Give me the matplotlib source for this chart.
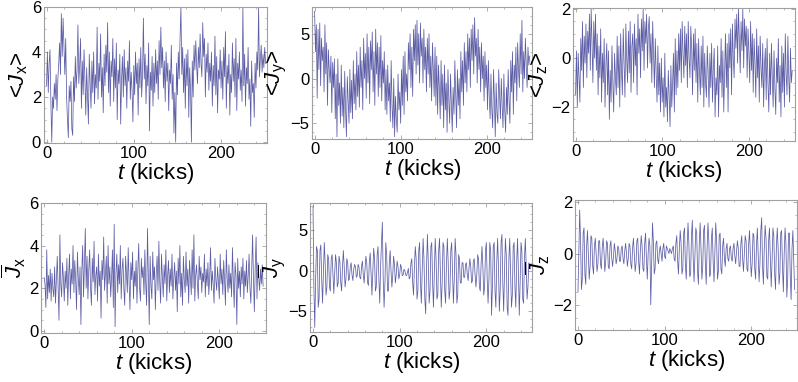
import numpy as np
import matplotlib
matplotlib.use('Agg')
import matplotlib.pyplot as plt
from matplotlib.ticker import MultipleLocator

plt.rcParams['font.family'] = ['Liberation Sans', 'DejaVu Sans']
plt.rcParams['mathtext.fontset'] = 'custom'
plt.rcParams['mathtext.rm'] = 'Liberation Sans'
plt.rcParams['mathtext.it'] = 'Liberation Sans:italic'
plt.rcParams['axes.unicode_minus'] = True

# ── dados (um valor por kick, t = 0..250) ─────────────────────────────────────
jx_mean = [
    2.5, 4.0, 2.2, 3.5, 4.1, 1.8, 0.0, 2.0, 1.5, 2.6, 1.9, 3.0, 1.4, 2.8, 3.5, 4.4, 3.0, 5.7, 3.8, 5.5, 4.2, 3.0, 4.6, 2.0, 1.0,
    0.2, 2.5, 1.8, 2.7, 0.6, 0.3, 2.9, 1.8, 3.8, 2.4, 3.2, 5.2, 2.6, 3.4, 4.6, 1.5, 3.6, 2.1, 4.1, 2.8, 1.2, 3.3, 2.0, 0.8, 3.9,
    2.6, 1.5, 3.6, 2.2, 4.0, 1.7, 3.0, 2.4, 5.1, 1.9, 3.5, 2.7, 4.8, 2.0, 3.3, 1.3, 3.9, 2.5, 4.3, 3.1, 5.3, 2.2, 4.0, 1.6, 3.6,
    2.9, 4.6, 1.8, 3.7, 2.4, 4.4, 1.0, 3.2, 2.6, 3.9, 0.8, 2.8, 3.8, 2.0, 4.1, 2.5, 3.3, 1.5, 3.6, 2.7, 4.5, 1.9, 3.1, 2.3, 0.9,
    3.4, 2.1, 4.0, 2.6, 3.5, 1.2, 3.7, 2.4, 4.2, 2.0, 3.0, 5.5, 2.8, 3.9, 1.7, 3.4, 2.5, 4.4, 0.5, 3.1, 2.3, 3.8, 1.6, 3.5, 2.2,
    4.1, 2.6, 3.6, 1.9, 4.5, 3.0, 5.1, 3.3, 4.2, 2.4, 3.6, 1.8, 4.0, 2.7, 3.5, 1.4, 3.2, 2.6, 4.3, 1.9, 3.0, 0.4, 2.2, 0.0, 3.5,
    2.1, 4.0, 2.8, 4.6, 6.0, 3.0, 4.2, 2.2, 3.7, 1.5, 3.9, 2.5, 4.1, 1.1, 3.3, 2.4, 0.0, 3.6, 2.0, 4.3, 3.2, 4.5, 3.4, 2.6, 4.2,
    3.3, 4.8, 3.5, 2.9, 5.3, 3.8, 4.6, 2.0, 3.9, 3.1, 4.4, 2.3, 3.5, 2.7, 4.0, 1.6, 3.4, 2.5, 4.7, 2.1, 3.8, 1.3, 3.2, 2.8, 4.1,
    2.4, 3.6, 1.9, 4.2, 2.9, 4.9, 1.5, 3.4, 2.6, 3.9, 1.2, 3.0, 2.2, 4.4, 2.7, 3.7, 2.0, 4.6, 1.4, 3.5, 2.8, 4.0, 2.3, 3.2, 1.8,
    6.0, 2.5, 3.9, 1.6, 3.3, 2.6, 4.2, 1.9, 2.8, 0.7, 3.6, 2.2, 2.6, 1.1, 3.5, 2.4, 4.0, 3.2, 6.0, 2.9, 3.7, 4.3, 3.1, 3.9, 3.3, 4.2, 3.5,
]

jy_mean = [
    7.5, 3.0, 6.0, -2.2, 5.5, 1.0, 6.2, -0.8, 4.5, 2.0, 3.5, -1.5, 6.0, 0.5, 4.0, -3.0, 3.2, 1.0, -0.5, 2.5, -3.8, 1.8, -1.0, 2.2, -4.5,
    0.5, -6.5, 2.2, -3.0, -0.5, -5.0, 1.5, -4.2, -1.0, -5.5, 0.8, -3.5, -6.5, 0.2, -2.5, -5.0, 1.0, -3.8, -0.2, -4.5, 2.0, -2.8, 0.5, -3.5, 3.0,
    -2.0, 1.5, -3.2, 3.5, -1.0, 2.0, -3.5, 4.5, 0.0, 2.8, -2.2, 5.0, -0.5, 3.5, -2.8, 4.2, 1.0, 5.2, -1.5, 3.0, -3.0, 5.5, 0.5, 4.0, -2.0,
    3.5, -1.0, 4.8, -2.5, 2.0, -0.5, 3.0, -3.5, 1.0, -4.0, 1.5, -2.5, -0.5, -4.8, 2.0, -3.0, -5.5, 0.0, -6.5, -2.0, -4.5, -6.0, 0.5, -3.5, -1.5,
    -5.0, 1.0, -3.0, 2.5, -4.0, 3.0, -1.5, 0.5, -2.5, 4.0, 1.0, 5.0, -1.0, 3.5, -2.0, 5.5, 2.0, 6.0, 0.5, 6.5, 1.5, 5.0, -0.5, 6.2, 2.5,
    4.5, -0.5, 5.5, 1.0, 3.5, -1.5, 4.5, 0.5, 5.0, -1.0, 2.5, -2.5, 4.0, 1.0, -2.0, 3.5, -3.0, 2.5, -4.0, 1.5, -1.0, -4.5, 2.0, -3.0, 0.5,
    -5.5, 1.5, -3.5, -0.5, -6.0, 1.0, -2.5, -5.0, 0.5, -3.0, -6.0, -1.0, -4.0, 2.0, -2.0, -5.5, 1.0, -3.0, 0.0, -4.5, 3.0, -1.5, 2.0, -3.0, 4.0,
    -0.5, 3.0, -1.5, 5.0, 1.0, 4.5, -1.0, 5.5, 2.0, 6.0, 0.5, 6.8, 2.5, 4.5, -0.5, 5.5, 1.0, 3.5, -1.5, 4.0, 0.0, 2.5, -2.5, 3.0, -1.0,
    1.5, -3.5, 2.0, -2.0, -4.5, 0.5, -3.5, -5.5, 1.0, -2.5, -6.5, -0.5, -4.0, -5.0, 1.0, -2.0, -4.5, 0.0, -3.0, -5.5, 0.5, -3.5, -6.0, -1.0, -4.0,
    1.0, -2.5, -5.0, 2.0, -1.5, 3.0, -4.0, 1.5, -0.5, 3.5, -2.5, 4.0, 1.0, -1.0, 5.0, 0.5, 6.5, -1.5, 3.0, 0.0, 4.5, 1.5, -1.0, 3.5, 1.5, 2.5,
]

jz_mean = [
    -1.5, 0.3, -2.0, 0.2, -0.8, -1.8, 0.8, -0.5, 1.5, -1.2, 0.9, -0.2, 1.4, -0.8, 1.1, 0.2, 1.8, -0.5, 2.0, 0.6, -1.0, 1.5, 0.0, 1.8, -0.5,
    1.0, -1.5, 0.5, -0.8, 1.2, -1.8, 0.2, -1.0, 0.8, -2.0, -0.3, 0.6, -1.5, 0.3, -2.5, -0.5, -1.8, 0.5, -1.0, -2.2, 0.2, -0.8, -1.5, 0.9, -1.2,
    0.5, -2.0, 1.0, -0.5, -1.5, 1.2, -0.2, -1.6, 1.4, 0.0, -1.0, 1.1, -0.6, 1.5, -1.4, 0.5, 1.0, -1.0, 1.4, -0.3, 0.8, -1.5, 1.8, 0.2, 1.2,
    -0.8, 1.6, 0.3, 2.0, -0.5, 1.5, 0.6, 1.8, -0.4, 1.2, 1.7, -0.2, 1.0, -1.0, 1.5, 0.2, -1.2, 0.8, -0.6, -1.8, 0.5, -1.5, -0.2, -2.2, 0.0,
    -1.8, -0.8, -2.4, 0.2, -2.0, -1.2, -2.6, -0.5, -1.5, -2.8, -0.3, -2.0, -1.0, 0.2, -2.2, 0.8, -1.5, 0.3, -1.2, 1.0, -0.5, 1.2, -1.0, 1.5, 0.2,
    -0.8, 1.3, -0.3, 1.0, -1.2, 1.5, 0.0, -0.8, 1.3, 0.4, -1.5, 1.0, -0.5, 1.2, -1.0, 0.6, -1.8, 0.8, -0.6, -1.5, 0.5, -1.2, 0.9, -2.0, 0.2,
    -1.0, -1.6, 0.5, -0.6, -2.0, 0.2, -1.2, 0.6, -1.8, -0.4, 0.4, -2.4, -0.8, -1.5, 0.5, -2.4, -0.3, -1.0, 0.8, -1.6, 0.3, -2.2, -0.5, 1.0, -1.2,
    0.6, -2.2, 1.0, -0.4, 1.2, -1.5, 1.4, 0.0, -0.8, 1.6, 0.4, 1.8, -0.2, 2.0, 0.8, -0.6, 1.5, 0.3, 2.0, -0.4, 1.6, 0.5, 1.3, -0.8, 1.2,
    0.2, -1.0, 1.5, -0.5, 1.0, -1.4, 0.8, -0.2, -1.6, 1.2, -0.8, 0.5, -1.8, 0.9, -0.4, -1.2, 0.6, -2.0, -0.3, 0.4, -1.7, 0.8, -1.0, -2.2, 0.2,
    -1.5, 0.6, -0.8, -2.0, 0.3, -1.2, -2.3, 0.0, -1.0, 0.8, -1.8, -0.3, -2.4, 0.5, -1.4, 0.2, -2.0, 1.0, -0.6, -1.5, 0.9, -0.8, -1.8, 0.4, -1.0, -0.5,
]

jx_bar = [
    2.5, 2.2, 1.1, 3.8, 1.5, 2.6, 1.8, 2.9, 1.4, 2.7, 2.0, 1.6, 3.0, 1.3, 2.4, 3.5, 1.9, 0.5, 4.5, 2.2, 1.6, 3.2, 2.5, 1.4, 2.8,
    2.0, 3.4, 1.2, 2.6, 3.6, 1.5, 2.9, 2.2, 4.0, 1.8, 3.3, 2.4, 1.0, 3.7, 2.5, 1.7, 3.0, 0.3, 2.8, 4.0, 1.6, 3.1, 4.8, 2.0, 3.5,
    1.5, 2.9, 3.8, 2.0, 1.2, 3.4, 2.3, 4.2, 1.7, 2.6, 3.0, 1.4, 3.6, 2.1, 2.8, 0.6, 3.3, 2.4, 4.4, 1.9, 2.7, 3.5, 1.3, 4.0, 2.2,
    3.0, 1.6, 2.5, 3.8, 1.1, 5.0, 0.2, 2.7, 3.6, 1.8, 3.1, 2.2, 4.0, 1.5, 2.9, 3.4, 2.0, 1.2, 3.5, 2.6, 1.8, 3.9, 2.3, 1.0, 3.2,
    2.4, 3.7, 1.5, 2.8, 2.1, 3.3, 1.3, 2.9, 4.1, 2.0, 1.4, 3.4, 2.5, 3.0, 1.7, 3.8, 2.2, 1.2, 4.8, 2.6, 0.3, 3.5, 2.1, 1.5, 3.7,
    2.4, 3.0, 1.0, 2.7, 3.5, 1.9, 4.2, 2.3, 1.3, 3.6, 2.5, 1.6, 3.1, 2.2, 3.8, 1.4, 2.6, 3.3, 1.8, 2.9, 2.1, 3.6, 1.5, 2.5, 3.2,
    1.9, 2.8, 0.9, 3.4, 2.2, 4.0, 1.6, 2.7, 1.2, 3.5, 2.4, 1.8, 3.7, 2.1, 2.9, 1.3, 3.3, 2.5, 1.7, 3.8, 2.0, 4.5, 1.4, 2.6, 3.1,
    2.2, 1.5, 3.5, 2.4, 3.0, 1.8, 2.7, 2.3, 3.6, 1.6, 2.9, 2.1, 3.2, 1.7, 2.5, 3.9, 1.9, 2.8, 2.2, 1.3, 3.4, 2.4, 1.9, 3.0, 2.3,
    1.5, 3.6, 2.2, 2.9, 1.7, 3.3, 2.4, 1.2, 3.8, 2.5, 1.8, 3.1, 2.0, 2.7, 1.6, 3.9, 2.3, 1.1, 3.2, 2.6, 0.3, 3.4, 2.0, 2.8, 1.6,
    3.0, 2.2, 3.4, 1.5, 2.8, 2.1, 3.3, 1.8, 2.6, 3.6, 2.0, 1.3, 2.9, 4.5, 2.4, 0.9, 3.0, 4.4, 1.5, 3.2, 2.5, 1.9, 2.9, 2.2, 3.1, 2.1,
]

jy_bar = [
    8.0, -2.0, -7.0, -1.0, 3.0, 2.5, -4.5, -3.5, 2.5, 3.2, -1.0, -4.0, 0.0, 3.5, 1.0, -3.0, -2.0, 2.0, 1.5, -2.0, -2.5, 1.5, 2.0, -0.5, -2.8,
    -0.5, 2.0, 1.0, -2.0, -1.5, 1.8, 1.2, -1.5, -2.5, 0.5, 2.5, 0.5, -2.0, -1.0, 1.5, 1.0, -1.2, -1.0, 0.5, 1.0, -0.5, -1.2, 0.2, 0.8, 0.5,
    -0.8, -0.6, 0.8, 0.5, -0.8, -1.0, 0.6, 1.2, -0.5, -1.5, 0.2, 1.8, 1.0, -1.5, -1.8, 1.2, 2.2, -0.5, -3.0, 0.0, 2.8, 1.5, -2.5, -2.0, 2.0,
    3.0, -1.0, -4.0, 0.5, 3.5, 6.0, -1.0, -4.5, -1.5, 3.5, 2.0, -2.5, -2.5, 1.0, 2.5, 0.0, -2.0, -0.5, 1.8, 0.8, -1.5, -0.5, 1.2, 0.6, -1.0,
    -0.5, 0.8, 0.4, -0.6, -0.5, 0.2, 0.0, -0.5, -0.6, -0.2, 0.3, -1.0, -0.8, 1.0, 1.5, -1.5, -3.0, 0.5, 3.0, 1.5, -3.5, -2.5, 2.5, 3.5, -1.5,
    -4.0, 0.0, 4.0, 1.5, -3.5, -5.3, 0.5, 4.5, 1.0, -4.0, -2.5, 3.0, 3.5, -1.5, -4.5, 0.0, 4.0, 1.5, -3.5, -3.0, 2.5, 4.0, -0.5, -4.5, -1.5,
    3.5, 3.0, -2.5, -4.0, 1.0, 4.0, 1.0, -3.5, -2.5, 2.5, 3.5, -0.5, -4.0, -1.0, 4.0, 2.0, -4.0, -3.0, 2.0, 1.5, -1.5, -1.5, 1.0, 1.0, -0.8,
    -0.8, 0.8, 1.0, -0.5, -1.2, 0.3, 1.5, 0.5, -1.5, -1.2, 1.2, 1.5, -0.5, -2.0, -0.5, 2.0, 1.5, -2.0, -2.5, 1.0, 3.0, 0.5, -3.0, -2.0, 2.5,
    3.5, -1.0, -4.0, -1.0, 3.5, 2.5, -5.5, -2.0, 3.0, 3.5, -2.5, -4.5, 1.0, 4.0, 0.5, -5.0, -2.5, 3.5, 4.5, -1.5, -5.0, 0.0, 4.0, 2.0, -4.5,
    -5.5, 1.5, 4.0, 0.0, -4.5, -3.0, 3.0, 3.5, -2.0, -4.5, 1.0, 4.0, 0.0, -5.5, -1.5, 3.5, 2.5, -3.5, -4.0, 1.5, 4.0, 0.5, -3.5, -2.0, 1.0, 0.5,
]

jz_bar = [
    -1.5, 0.0, 1.7, 0.5, -1.4, -1.0, 0.8, 1.0, -0.8, -1.2, 0.3, 0.9, 0.0, -1.0, -0.5, 0.7, 0.6, -0.5, -0.8, 0.3, 0.6, 0.0, -0.7, -0.4, 0.5,
    0.5, -0.4, -0.6, 0.2, 0.6, 0.1, -0.7, -0.3, 0.5, 0.4, -0.5, -0.6, 0.3, 0.5, -0.2, -0.5, -0.1, 0.4, 0.1, -0.4, -0.2, 0.3, 0.2, -0.3, -0.3,
    0.2, 0.3, -0.2, -0.4, 0.1, 0.4, 0.0, -0.5, -0.2, 0.4, 0.3, -0.4, -0.6, 0.2, 0.6, 0.0, -0.7, -0.4, 0.5, 0.6, -0.3, -0.8, 0.1, 0.7, 0.3,
    -0.6, -0.7, 0.4, 0.8, -0.2, -1.0, 0.0, 0.6, 0.3, -2.0, -0.5, 1.2, 0.5, -0.8, -0.6, 0.4, 0.5, -0.2, -0.4, 0.1, 0.3, 0.0, -0.3, 0.2, 0.4,
    -0.1, -0.2, 0.3, 0.2, 0.1, 0.0, 0.2, 0.1, 0.0, 0.2, 0.3, -0.2, -0.3, 0.4, 0.7, -0.3, -0.8, 0.2, 0.9, 0.4, -0.8, -0.6, 0.8, 1.0, -0.5,
    -1.0, 0.3, 1.2, 0.4, -0.9, -0.8, 0.7, 1.3, -0.2, -1.1, 0.0, 1.0, 0.8, -0.7, -1.2, 0.4, 1.2, 0.2, -1.0, -0.5, 0.9, 1.1, -0.4, -1.2, 0.2,
    1.2, 0.5, -0.9, -0.8, 0.6, 1.0, -0.3, -1.1, 0.0, 1.2, 0.5, -1.0, -0.7, 0.7, 0.8, -0.6, -0.8, 0.3, 0.6, -0.2, -0.5, 0.2, 0.4, -0.2, -0.3,
    0.2, 0.3, -0.2, -0.3, 0.2, 0.4, -0.1, -0.4, 0.1, 0.5, 0.2, -0.5, -0.5, 0.4, 0.7, -0.2, -0.7, 0.0, 0.7, 0.5, -0.6, -0.7, 0.4, 0.9, -0.1,
    -0.9, -0.4, 0.8, 0.7, -0.6, -1.0, 0.3, 1.0, 0.0, -1.1, -0.4, 0.9, 1.4, -0.5, -1.2, 0.2, 1.1, 0.6, -0.9, -1.0, 0.5, 1.0, -0.2, -1.3, -0.3,
    1.0, 0.7, -0.8, -1.4, 0.3, 1.0, 0.2, -1.2, -0.8, 0.8, 0.9, -0.5, -1.5, 0.0, 1.0, 0.4, -1.7, -1.0, 0.8, 0.8, -0.9, -1.8, 0.2, 0.9, -0.3, -1.4,
]

series = [jx_mean, jy_mean, jz_mean, jx_bar, jy_bar, jz_bar]
ylabels = [r'<$J_\mathrm{x}$>', r'<$J_\mathrm{y}$>', r'<$J_\mathrm{z}$>',
           r'$\overline{J}_\mathrm{x}$', r'$\overline{J}_\mathrm{y}$', r'$\overline{J}_\mathrm{z}$']
ylims = [(-0.05, 6.0), (-6.8, 8.0), (-3.4, 2.05), (-0.1, 6.0), (-7.6, 8.4), (-3.0, 2.1)]
yticks = [[0, 2, 4, 6], [-5, 0, 5], [-2, 0, 2], [0, 2, 4, 6], [-5, 0, 5], [-2, 0, 2]]
yminor = [0.5, 1, 0.5, 0.5, 1, 0.5]
xticks = [0, 100, 200]

# posicoes dos eixos em fracao da figura (esq, base, largura, altura)
posicoes = [
    (0.055, 0.625, 0.280, 0.357),
    (0.391, 0.635, 0.276, 0.347),
    (0.718, 0.630, 0.278, 0.349),
    (0.052, 0.128, 0.281, 0.341),
    (0.389, 0.130, 0.278, 0.339),
    (0.721, 0.135, 0.278, 0.342),
]

cor_linha = '#34348f'
cor_moldura = '#a0a0a0'

fig = plt.figure(figsize=(7.98, 3.82), dpi=100)

for i, dados in enumerate(series):
    ax = fig.add_axes(posicoes[i])
    t = np.arange(len(dados))
    ax.plot(t, dados, color=cor_linha, linewidth=0.55, alpha=0.8)

    ax.set_xlim(-3, 253)
    ax.set_ylim(*ylims[i])
    ax.set_xticks(xticks)
    ax.set_yticks(yticks[i])
    ax.xaxis.set_minor_locator(MultipleLocator(20))
    ax.yaxis.set_minor_locator(MultipleLocator(yminor[i]))
    ax.tick_params(which='both', direction='in', color=cor_moldura,
                   top=True, right=True, labelsize=12, pad=2)
    ax.tick_params(which='major', length=3, width=0.6)
    ax.tick_params(which='minor', length=1.5, width=0.5)

    for sp in ax.spines.values():
        sp.set_color(cor_moldura)
        sp.set_linewidth(0.8)

    ax.set_xlabel(r'$t$ (kicks)', fontsize=16, labelpad=0)
    ax.set_ylabel(ylabels[i], fontsize=16, labelpad=1)

plt.savefig('out.png', dpi=100)
